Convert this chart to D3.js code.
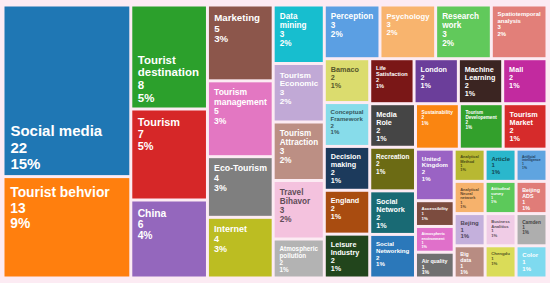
<!DOCTYPE html>
<html>
<head>
<meta charset="utf-8">
<script src="https://cdn.jsdelivr.net/npm/d3@7"></script>
<style>
body{margin:0;background:#fcebf3;}
svg{display:block}
</style>
</head>
<body>
<div id="chart"></div>
<script>
// keywords in the order they were fed to the treemap
var keywords = ["Social media","Tourist behvior","Tourist destination","Tourism","China",
    "Marketing","Tourism management","Eco-Tourism","Internet",
    "Data mining","Tourism Economic","Tourism Attraction","Travel Bihavor","Atmospheric pollution",
    "Perception","Psychology","Research work","Spatiotemporal analysis",
    "Bamaco","Conceptual Framework","Decision making","England","Leisure Industry",
    "Life Satisfaction","London","Machine Learning","Mall",
    "Media Role","Recreation","Social Network","Social Networking",
    "Sustainability","Tourism Developement","Tourism Market",
    "United Kingdom","Accessibility","Atmospheric environment","Air quality",
    "Analytical Method","Article","Artificial intelligence",
    "Analytical Neural network","Attitudinal survey","Beijing ADS",
    "Bejing","Big data","Business Analitics","Camden","Chengdu","Color"]
var counts = [22,13,8,7,6,
    5,5,4,4,
    3,3,3,3,2,
    3,3,3,3,
    2,2,2,2,2,
    2,2,2,2,
    2,2,2,2,
    2,2,2,
    2,1,1,1,
    1,1,1,
    1,1,1,
    1,1,1,1,1,1]

var palette = ["#1f77b4","#ff7f0e","#2ca02c","#d62728","#9467bd",
    "#8c564b","#e377c2","#7f7f7f","#bcbd22",
    "#17becf","#c1a9d6","#bc8f84","#f4c2de","#b3b3b3",
    "#5b9fe3","#f8b46e","#61c95b","#e27f79",
    "#dbdc6e","#87dcea","#1c3a5c","#a94c10","#22451c",
    "#7a1717","#6b3e9a","#3b2522","#c22a9f",
    "#454545","#6c6b14","#196a74","#2b78ba",
    "#fa8511","#33a02c","#d62b2b",
    "#9a63c4","#7c4c3f","#e070ca","#707070",
    "#b8b832","#2ab7cc","#5fa4e0",
    "#f6b26c","#5cc95a","#e07c78",
    "#c4b0dc","#b88c82","#f0cce6","#aeaeae","#dadc58","#7edaef"]
var darkLabels = ["Bamaco","Conceptual Framework","Travel Bihavor","Article","Analytical Method",
    "Artificial intelligence","Analytical Neural network","Bejing","Business Analitics","Camden","Chengdu"]

var width = 550
var height = 283
var total = d3.sum(counts)
var fontFamily = "'Liberation Sans', Arial, sans-serif"

var color = d3.scaleOrdinal().domain(keywords).range(palette)

var root = d3.hierarchy({children: keywords.map(function(k,i){return {name:k, value:counts[i]}})})
    .sum(function(d){return d.value})

d3.treemap()
    .tile(d3.treemapSquarify.ratio(1))
    .size([541,270])
    .paddingInner(3)(root)

var svg = d3.select("#chart").append("svg").attr("width",width).attr("height",height)
var g = svg.append("g").attr("transform","translate(4.5,6.5)")

var ctx = document.createElement("canvas").getContext("2d")
function textWidth(t,fs){
    ctx.font = "bold "+fs+"px "+fontFamily
    return ctx.measureText(t).width
}
function wrap(words,fs,maxW){
    var lines = []
    var line = ""
    words.forEach(function(w){
        var test = line ? line+" "+w : w
        if(line && textWidth(test,fs) > maxW){
            lines.push(line)
            line = w
        }else{
            line = test
        }
    })
    if(line) lines.push(line)
    return lines
}

var cells = g.selectAll(".cell")
    .data(root.leaves())
    .enter()
    .append("g")
    .attr("class","cell")
    .attr("transform",function(d){return "translate("+d.x0+","+d.y0+")"})

cells.append("rect")
    .attr("width",function(d){return d.x1-d.x0})
    .attr("height",function(d){return d.y1-d.y0})
    .attr("fill",function(d){return color(d.data.name)})

cells.each(function(d){
    var w = d.x1-d.x0
    var h = d.y1-d.y0
    var words = d.data.name.split(" ")
    var fs = Math.min(15, 3+3*Math.sqrt(d.data.value))
    var pad = 4+fs*0.1
    var longest = d3.max(words,function(t){return textWidth(t,1)})
    fs = Math.min(fs,(w-2*pad)/longest)
    var lines
    // shrink until the block fits the tile height
    while(true){
        pad = 3+fs*0.13
        lines = wrap(words,fs,w-2*pad)
        var need = (lines.length+1)*fs*1.1+fs+pad*1.6
        if(need <= h || fs < 3) break
        fs -= 0.25
    }
    lines.push(d.data.value)
    lines.push(Math.round(d.data.value/total*100)+"%")
    var lh = fs*1.1
    var y0
    if(h > 100){
        y0 = h-6-(lines.length-1)*lh
    }else{
        y0 = pad+fs*1.05
    }
    var fill = "#fff"
    if(darkLabels.indexOf(d.data.name)>-1){
        fill = d3.color(color(d.data.name)).darker(2.6)
    }
    var text = d3.select(this).append("text")
        .attr("font-family",fontFamily)
        .attr("font-weight","bold")
        .attr("font-size",fs)
        .attr("fill",fill)
    text.selectAll("tspan")
        .data(lines)
        .enter()
        .append("tspan")
        .attr("x",pad+1)
        .attr("y",function(l,i){return y0+i*lh})
        .text(function(l){return l})
})
</script>
</body>
</html>
